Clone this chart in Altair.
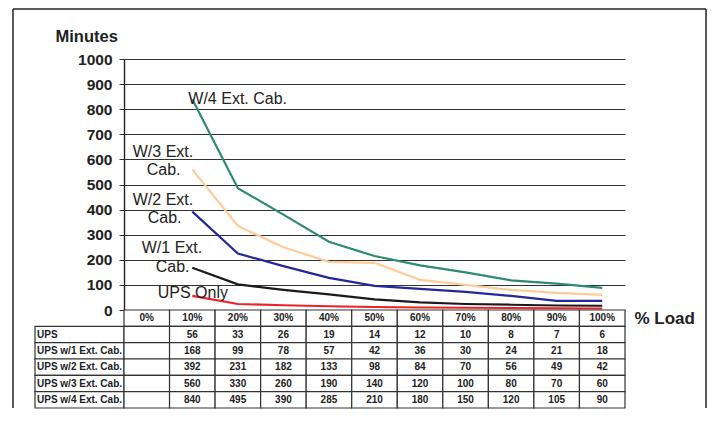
import altair as alt
import pandas as pd

FONT = "Liberation Sans"
INK = "#222222"

# ---------------- data ----------------
loads = ["0%", "10%", "20%", "30%", "40%", "50%", "60%", "70%", "80%", "90%", "100%"]
line_loads = loads[1:]
series = ["UPS", "UPS w/1 Ext. Cab.", "UPS w/2 Ext. Cab.", "UPS w/3 Ext. Cab.", "UPS w/4 Ext. Cab."]

# table values (as printed)
tab_ups = [56, 33, 26, 19, 14, 12, 10, 8, 7, 6]
tab_w1 = [168, 99, 78, 57, 42, 36, 30, 24, 21, 18]
tab_w2 = [392, 231, 182, 133, 98, 84, 70, 56, 49, 42]
tab_w3 = [560, 330, 260, 190, 140, 120, 100, 80, 70, 60]
tab_w4 = [840, 495, 390, 285, 210, 180, 150, 120, 105, 90]

# plotted curves
line_ups = [56, 24, 19, 15, 12, 10, 9, 8, 7, 6]
line_w1 = [168, 102, 80, 62, 42, 30, 24, 21, 18, 17]
line_w2 = [392, 225, 175, 128, 96, 84, 72, 56, 36, 36]
line_w3 = [560, 335, 250, 192, 188, 120, 100, 80, 68, 60]
line_w4 = [840, 485, 380, 272, 215, 178, 150, 118, 105, 88]

colors = ["#EE2028", "#1A1A1A", "#24279A", "#FFCC99", "#2E8B72"]

# in-plot series labels: text, anchor category, value, horizontal nudge
ann_text = ["W/4 Ext. Cab.", "W/3 Ext.", "Cab.", "W/2 Ext.", "Cab.", "W/1 Ext.", "Cab.", "UPS Only"]
ann_cat = ["10%", "0%", "0%", "0%", "0%", "0%", "0%", "0%"]
ann_val = [841, 629, 558, 438, 367, 247, 171, 68]
ann_dx = [-4, -14, 0, -14, 1, -5, 9, 11]

# ---------------- frames ----------------
line_rows = []
for s, vals in zip(series, [line_ups, line_w1, line_w2, line_w3, line_w4]):
    for i, (l, v) in enumerate(zip(line_loads, vals)):
        line_rows.append({"series": s, "load": l, "minutes": v, "idx": i})
line_df = pd.DataFrame(line_rows)

cell_rows = []
for l in loads:
    cell_rows.append({"row": "header", "load": l, "text": l})
for s, vals in zip(series, [tab_ups, tab_w1, tab_w2, tab_w3, tab_w4]):
    cell_rows.append({"row": s, "load": "0%", "text": ""})
    for l, v in zip(line_loads, vals):
        cell_rows.append({"row": s, "load": l, "text": str(v)})
cell_df = pd.DataFrame(cell_rows)

PLOT_W, PLOT_H = 501, 251
LAB_W, TAB_H = 89, 98

# ---------------- line chart ----------------
x_line = alt.X("load:O", scale=alt.Scale(domain=loads, type="point", padding=0.5), axis=None)
y_line = alt.Y(
    "minutes:Q",
    scale=alt.Scale(domain=[0, 1000], nice=False),
    axis=alt.Axis(
        values=list(range(0, 1001, 100)), format="d", labelOverlap=False,
        grid=True, gridColor="#333333", gridWidth=1.2,
        domainColor=INK, domainWidth=1.4, tickColor="#333333", tickSize=5,
        labelFont=FONT, labelFontWeight="bold", labelFontSize=15.5, labelColor=INK, labelPadding=7,
        title="Minutes", titleAngle=0, titleX=-69, titleY=-23, titleAlign="left",
        titleBaseline="middle", titleFont=FONT, titleFontSize=16.5, titleFontWeight="bold",
        titleColor=INK,
    ),
)

lines = alt.Chart(line_df).mark_line(strokeWidth=2.2).encode(
    x=x_line,
    y=y_line,
    color=alt.Color("series:N", scale=alt.Scale(domain=series, range=colors), legend=None),
    order=alt.Order("idx:Q"),
)

layers = [lines]
for t, c, v, d in zip(ann_text, ann_cat, ann_val, ann_dx):
    adf = pd.DataFrame({"load": [c], "minutes": [v], "label": [t]})
    layers.append(
        alt.Chart(adf).mark_text(
            align="left", baseline="middle", dx=d, font=FONT, fontSize=16, color=INK
        ).encode(x=x_line, y=y_line, text="label:N")
    )

# outer frame (left, top, right sides; bottom runs off the page)
one = pd.DataFrame({"a": [0]})
frame_style = dict(color=INK, strokeWidth=1.5)
layers.append(alt.Chart(one).mark_rule(**frame_style).encode(
    x=alt.value(-111), y=alt.value(-50), y2=alt.value(349)))
layers.append(alt.Chart(one).mark_rule(**frame_style).encode(
    x=alt.value(582), y=alt.value(-50), y2=alt.value(349)))
layers.append(alt.Chart(one).mark_rule(**frame_style).encode(
    x=alt.value(-111), x2=alt.value(582), y=alt.value(-50)))

top = alt.layer(*layers).properties(width=PLOT_W, height=PLOT_H)

spacer = alt.Chart(one).mark_point(opacity=0).properties(width=LAB_W, height=PLOT_H)

# ---------------- table ----------------
row_domain = ["header"] + series
y_tab = alt.Y("row:N", scale=alt.Scale(domain=row_domain, paddingInner=0, paddingOuter=0), axis=None)

lab_df = pd.DataFrame({"row": series})
lab_rect = alt.Chart(lab_df).mark_rect(fill="white", stroke="#333333", strokeWidth=1.2)
lab_text = alt.Chart(lab_df).mark_text(
    align="left", baseline="middle", font=FONT, fontSize=10, fontWeight="bold", color=INK
).encode(x=alt.value(2), text="row:N")
labels = alt.layer(lab_rect, lab_text).encode(y=y_tab).properties(width=LAB_W, height=TAB_H)

x_tab = alt.X(
    "load:N",
    scale=alt.Scale(domain=loads, paddingInner=0, paddingOuter=0),
    axis=alt.Axis(
        orient="top", labels=False, ticks=False, domain=False, grid=False,
        title="% Load", titleX=510, titleY=8, titleAlign="left", titleBaseline="middle",
        titleAngle=0, titleFont=FONT, titleFontSize=17, titleFontWeight="bold", titleColor=INK,
    ),
)
cells = alt.Chart(cell_df).mark_rect(fill="white", stroke="#333333", strokeWidth=1.2)
cell_text = alt.Chart(cell_df).mark_text(
    align="center", baseline="middle", font=FONT, fontSize=10, fontWeight="bold", color=INK
).encode(text="text:N")
table = alt.layer(cells, cell_text).encode(x=x_tab, y=y_tab).properties(width=PLOT_W, height=TAB_H)

chart = alt.concat(spacer, top, labels, table, columns=2, spacing=0, bounds="flush").configure_view(
    strokeOpacity=0
).properties(padding={"left": 4, "top": 0, "right": 0, "bottom": 0}, background="white")

chart.save("out.html", embed_options={"renderer": "svg", "actions": False})
